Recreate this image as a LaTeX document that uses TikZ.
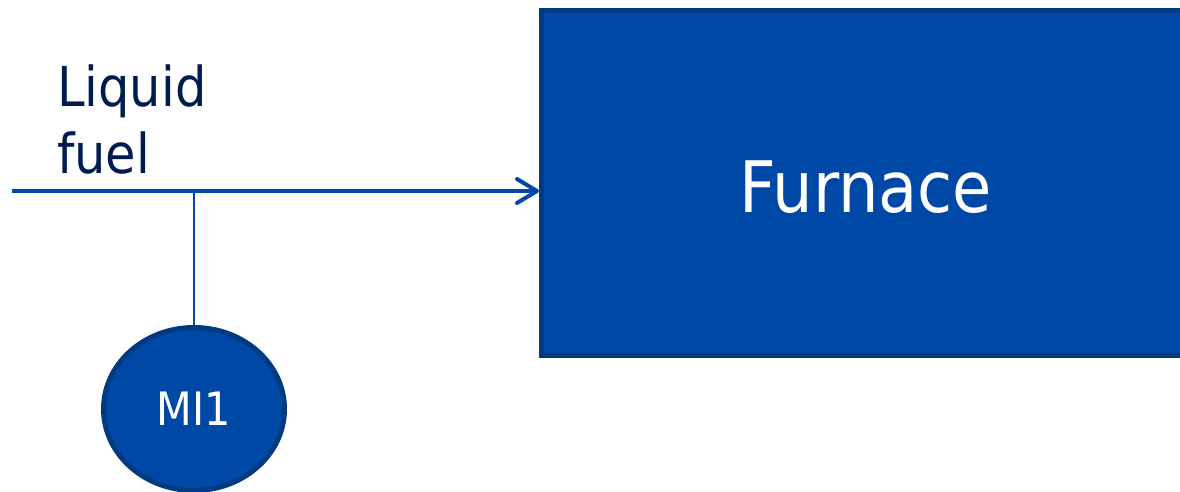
\documentclass[tikz,border=0pt]{standalone}
\usepackage{fontspec}
\setmainfont{DejaVu Sans Condensed}
\usetikzlibrary{arrows.meta,shapes.geometric}
\definecolor{boxfill}{RGB}{0,72,166}
\definecolor{boxedge}{RGB}{0,58,128}
\definecolor{navy}{RGB}{0,28,78}
\definecolor{flowblue}{RGB}{0,72,166}
\tikzset{
  box/.style={draw=boxedge, fill=boxfill, line width=5pt, inner sep=0pt},
  meter/.style={ellipse, draw=boxedge, fill=boxfill, line width=5pt, inner sep=0pt,
    text=white, font=\fontsize{46}{52}\selectfont},
  flow/.style={draw=flowblue, line width=4pt, -{Straight Barb[length=20pt,width=24pt,round]}},
  tap/.style={draw=flowblue, line width=1.6pt},
  lbl/.style={text=navy, font=\fontsize{55}{67}\selectfont, align=left, inner sep=0pt},
}
\begin{document}
\begin{tikzpicture}[x=1pt,y=-1pt]
\useasboundingbox (0,0) rectangle (1180,492);
\node[box, minimum width=649pt, minimum height=345.5pt] (furnace) at (866,183) {};
\node[text=white, font=\fontsize{71}{80}\selectfont, inner sep=0pt, anchor=base] (furnacetext) at (866,212) {Furnace};
\node[meter, minimum width=181pt, minimum height=163pt] (mi) at (194,409) {MI1};
\coordinate (in) at (12,191);
\coordinate (j) at (194,191);
\draw[flow] (in) -- (furnace.west |- in);
\draw[tap] (j) -- (mi.north);
\node[lbl, anchor=base west] (fuel) at (57,173) {Liquid\\fuel};
\end{tikzpicture}
\end{document}
